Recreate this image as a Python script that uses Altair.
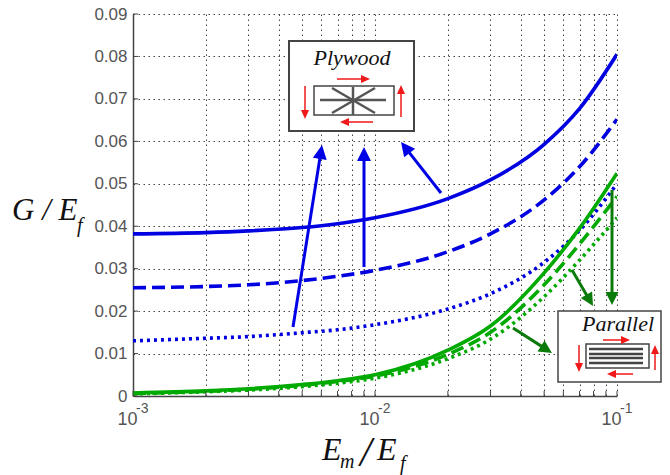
import math
import altair as alt
import pandas as pd

X_VALUES = [0.001, 0.002, 0.003, 0.005, 0.007, 0.01, 0.02, 0.03, 0.05, 0.07, 0.1]
BLUE_SOLID = [0.0382, 0.0385, 0.0389, 0.0397, 0.0406, 0.0420, 0.0465, 0.0509, 0.0593, 0.0677, 0.0805]
BLUE_DASHED = [0.0255, 0.0258, 0.0262, 0.0272, 0.0282, 0.0296, 0.0340, 0.0382, 0.0462, 0.0540, 0.0652]
BLUE_DOTTED = [0.0130, 0.0136, 0.0140, 0.0149, 0.0156, 0.0168, 0.0205, 0.0241, 0.0315, 0.0390, 0.0500]
GREEN_SOLID = [0.0007, 0.0012, 0.0017, 0.0027, 0.0036, 0.0050, 0.0108, 0.0165, 0.0290, 0.0395, 0.0525]
GREEN_DASHED = [0.0006, 0.0011, 0.0016, 0.0025, 0.0034, 0.0047, 0.0098, 0.0150, 0.0262, 0.0358, 0.0470]
GREEN_DOTTED = [0.0005, 0.0010, 0.0014, 0.0022, 0.0030, 0.0042, 0.0088, 0.0134, 0.0234, 0.0320, 0.0420]

X_GRID = [m * 10 ** e for e in (-3, -2) for m in range(1, 10)] + [0.1]
X_GRID = [round(v, 6) for v in X_GRID]
Y_GRID = [0, 0.01, 0.02, 0.03, 0.04, 0.05, 0.06, 0.07, 0.08, 0.09]
EXPONENTS = ["-3", "-2", "-1"]
EXP_AT = [0.001, 0.01, 0.1]

W, H = 484, 382
OX, OY = 133, 14
BLUE, GREEN = "#0000e0", "#00aa00"
DBLUE = "#0000e6"
DGREEN = "#0a7a0a"
RED = "#f01818"
DARK = "#444444"
GRID = "#444444"
SERIF = "Liberation Serif"

xs = alt.Scale(type="log", domain=[0.001, 0.1], nice=False)
ys = alt.Scale(domain=[0, 0.09], nice=False)

x_axis = alt.Axis(
    values=X_GRID, grid=True, gridColor=GRID, gridDash=[1.5, 3.5], gridWidth=1, gridOpacity=1,
    tickSize=0, domainColor=DARK, domainWidth=1.5, title=None,
    labelExpr="abs(log(datum.value)/LN10-round(log(datum.value)/LN10))<0.000001?'10':''",
    labelAlign="right", labelOffset=4, labelPadding=14, labelFontSize=18, labelColor="#555555",
    labelFont="Liberation Sans", labelOverlap=False, labelBound=False, labelFlush=False,
)
y_axis = alt.Axis(
    values=Y_GRID, grid=True, gridColor=GRID, gridDash=[1.5, 3.5], gridWidth=1, gridOpacity=1,
    tickSize=0, domainColor=DARK, domainWidth=1.5, title=None,
    labelExpr="datum.value==0?'0':format(datum.value,'.2f')",
    labelPadding=6, labelFontSize=17, labelColor="#555555", labelFont="Liberation Sans",
    labelOverlap=False, labelBound=False, labelFlush=False,
)


def series(values, name, color, dash):
    df = pd.DataFrame({"x": X_VALUES, "y": values, "s": name})
    kw = {"strokeDash": dash} if dash else {}
    return alt.Chart(df).mark_line(color=color, strokeWidth=3.6, interpolate="monotone", clip=True, **kw).encode(
        x=alt.X("x:Q", scale=xs, axis=x_axis),
        y=alt.Y("y:Q", scale=ys, axis=y_axis),
    )


def px(v):
    return alt.value(v - OX)


def py(v):
    return alt.value(v - OY)


def seg(x1, y1, x2, y2, color, width):
    return alt.Chart(pd.DataFrame({"a": [0]})).mark_rule(color=color, strokeWidth=width).encode(
        x=px(x1), y=py(y1), x2=px(x2), y2=py(y2))


def arrow(x1, y1, x2, y2, color, width, head_w, head_l):
    d = math.hypot(x2 - x1, y2 - y1)
    ux, uy = (x2 - x1) / d, (y2 - y1) / d
    cx, cy = x2 - ux * head_l / 2, y2 - uy * head_l / 2
    sx, sy = x2 - ux * head_l * 0.8, y2 - uy * head_l * 0.8
    ang = math.degrees(math.atan2(ux, -uy)) % 360
    k = head_l / head_w
    shape = f"M0,{-k:.3f}L-1,{k:.3f}L1,{k:.3f}Z"
    head = alt.Chart(pd.DataFrame({"a": [0]})).mark_point(
        shape=shape, filled=True, fill=color, opacity=1, size=head_w ** 2, angle=ang
    ).encode(x=px(cx), y=py(cy))
    return [seg(x1, y1, sx, sy, color, width), head]


def box(x1, y1, x2, y2, width, fill="#ffffff", stroke=DARK):
    return alt.Chart(pd.DataFrame({"a": [0]})).mark_rect(fill=fill, stroke=stroke, strokeWidth=width).encode(
        x=px(x1), x2=px(x2), y=py(y1), y2=py(y2))


def txt(s, x, y, size, align="left", color="#111111", font=SERIF, style="italic"):
    return alt.Chart(pd.DataFrame({"a": [0]})).mark_text(
        text=s, fontSize=size, align=align, baseline="alphabetic", color=color, font=font, fontStyle=style
    ).encode(x=px(x), y=py(y))


layers = [
    series(BLUE_DOTTED, "blue dotted", BLUE, [3, 4]),
    series(BLUE_DASHED, "blue dashed", BLUE, [13, 6]),
    series(BLUE_SOLID, "blue solid", BLUE, None),
    series(GREEN_DOTTED, "green dotted", GREEN, [3, 4]),
    series(GREEN_DASHED, "green dashed", GREEN, [13, 6]),
    series(GREEN_SOLID, "green solid", GREEN, None),
]

# inner ticks
xt = alt.Chart(pd.DataFrame({"x": X_GRID})).mark_rule(color=DARK, strokeWidth=1).encode(
    x=alt.X("x:Q", scale=xs), y=alt.value(H), y2=alt.value(H - 5))
yt = alt.Chart(pd.DataFrame({"y": Y_GRID})).mark_rule(color=DARK, strokeWidth=1).encode(
    y=alt.Y("y:Q", scale=ys), x=alt.value(0), x2=alt.value(5))
layers += [xt, yt]

# decade exponents
exp_layer = alt.Chart(pd.DataFrame({"x": EXP_AT, "t": EXPONENTS})).mark_text(
    fontSize=14, align="left", baseline="alphabetic", color="#555555", font="Liberation Sans", dx=3
).encode(x=alt.X("x:Q", scale=xs), y=alt.value(H + 17), text="t:N")
layers.append(exp_layer)

# annotation arrows
layers += arrow(293, 327, 322, 145, DBLUE, 3, 14, 14)
layers += arrow(364, 267, 364, 147, DBLUE, 3, 14, 14)
layers += arrow(441, 193, 401, 142, DBLUE, 3, 14, 14)
layers += arrow(513, 328, 552, 353, DGREEN, 3, 13, 13)
layers += arrow(572, 270, 593, 306, DGREEN, 3, 13, 13)
layers += arrow(612, 190, 612, 305, DGREEN, 3, 13, 13)

# Plywood inset
layers.append(box(289, 41, 414, 131, 2))
layers.append(txt("Plywood", 352, 65, 22, align="center"))
layers.append(box(314, 86, 394, 115, 1.5))
for a in [(320, 100, 386, 100), (353, 87, 353, 115), (332, 88, 375, 113), (375, 88, 332, 113)]:
    layers.append(seg(*a, "#555555", 2.5))
layers += arrow(337, 79, 370, 79, RED, 1.5, 8, 9)
layers += arrow(305, 86, 305, 119, RED, 1.5, 8, 9)
layers += arrow(401, 117, 401, 85, RED, 1.5, 8, 9)
layers += arrow(373, 122, 340, 122, RED, 1.5, 8, 9)

# Parallel inset (the svg can reach x = 662 in the page)
layers.append(box(558, 311, 661, 382, 1.5))
layers.append(txt("Parallel", 618, 331, 22, align="center"))
layers.append(box(586, 344, 649, 368, 1.5))
for yy in [349, 354, 358, 363]:
    layers.append(seg(589, yy, 643, yy, "#444444", 2.5))
layers += arrow(603, 340, 630, 340, RED, 1.5, 8, 9)
layers += arrow(579, 345, 579, 372, RED, 1.5, 8, 9)
layers += arrow(655, 370, 655, 345, RED, 1.5, 8, 9)
layers += arrow(633, 374, 607, 374, RED, 1.5, 8, 9)

# axis titles
layers.append(txt("G / E", 12, 220, 31))
layers.append(txt("f", 77, 232, 20))
layers.append(txt("E", 322, 460, 32))
layers.append(txt("m", 340, 468, 20))
layers.append(txt("/", 360, 466, 42))
layers.append(txt("E", 377, 460, 32))
layers.append(txt("f", 400, 470, 20))

chart = alt.layer(*layers).properties(
    width=W, height=H,
    padding={"left": OX - 8, "top": OY - 8, "right": 45, "bottom": 79},
    autosize=alt.AutoSizeParams(type="none"),
    background="#ffffff",
).configure_view(stroke=None)

chart.save("out.html", embed_options={"renderer": "svg", "actions": False})
